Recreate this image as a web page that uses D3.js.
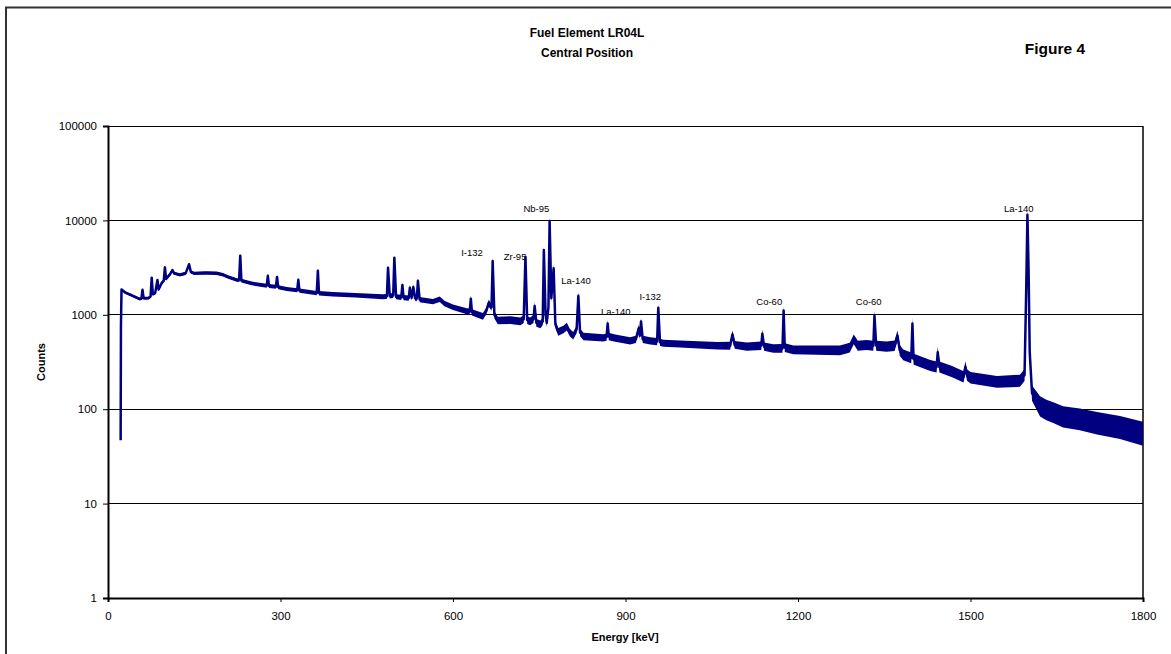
<!DOCTYPE html>
<html>
<head>
<meta charset="utf-8">
<script src="https://cdn.jsdelivr.net/npm/d3@7"></script>
<style>
  body { margin: 0; background: #fff; }
  text { font-family: "Liberation Sans", Arial, sans-serif; fill: #000; }
</style>
</head>
<body>
<svg id="chart" width="1171" height="654"></svg>
<script>
//////////////////////////////////////////////////////////////////////////////
// Data

var energy = [22, 22.5, 23.5, 30, 40, 55, 58, 60, 62, 70, 74, 76, 78, 82, 86, 88, 93, 97, 99, 101,
  108, 112, 115, 125, 135, 141, 144, 150, 170, 189, 200, 209, 224, 228, 230, 232, 250, 276, 278, 280,
  292, 294, 296, 311, 329, 331, 333, 363, 365, 367, 391, 430, 478, 485, 487, 490, 496, 498, 501, 510,
  512, 514, 523, 525, 528, 531, 534, 537, 539, 542, 565, 577, 585, 600, 624, 629, 631, 633, 652, 658,
  662, 667, 669, 672, 678, 700, 717, 723, 726, 729, 734, 740, 742, 745, 752, 756, 758, 761, 763, 766,
  768, 771, 775, 778, 783, 792, 798, 803, 809, 815, 818, 821, 827, 862, 867, 869, 871, 880, 908, 918,
  923, 925, 927, 930, 943, 955, 957, 960, 966, 995, 1060, 1082, 1086, 1090, 1111, 1136, 1138, 1141, 1157, 1173,
  1175, 1177, 1192, 1273, 1290, 1297, 1304, 1319, 1331, 1333, 1336, 1354, 1368, 1373, 1377, 1383, 1397, 1399, 1401, 1406,
  1430, 1441, 1443, 1446, 1468, 1488, 1491, 1494, 1500, 1546, 1586, 1594, 1597, 1599, 1601, 1603, 1607, 1621, 1632, 1644,
  1661, 1690, 1720, 1760, 1800];

var counts = [47, 750, 1850, 1720, 1620, 1470, 1480, 1840, 1500, 1500, 1560, 2470, 1650, 1700, 2340, 1850, 2150, 2300, 3180, 2400,
  2700, 2980, 2750, 2650, 2750, 3430, 2850, 2750, 2780, 2760, 2650, 2520, 2340, 2330, 4230, 2300, 2150, 2030, 2590, 2020,
  1980, 2520, 1960, 1880, 1820, 2350, 1800, 1700, 2930, 1690, 1650, 1610, 1550, 1560, 3160, 1580, 1600, 4030, 1550, 1530,
  2070, 1520, 1500, 1940, 1510, 1970, 1500, 1480, 2290, 1450, 1380, 1460, 1320, 1200, 1090, 1080, 1480, 1060, 960, 1100,
  1330, 1200, 3720, 1000, 870, 880, 850, 900, 4120, 880, 850, 900, 1240, 820, 790, 850, 4860, 1000, 820, 1200,
  9860, 1500, 3110, 800, 660, 700, 750, 650, 600, 700, 1590, 650, 590, 570, 580, 810, 590, 570, 530, 550,
  720, 600, 850, 550, 530, 520, 1190, 510, 500, 490, 470, 470, 620, 480, 460, 470, 630, 460, 440, 440,
  1110, 450, 425, 420, 450, 550, 470, 480, 470, 980, 470, 460, 470, 600, 420, 376, 350, 810, 340, 330,
  290, 280, 400, 280, 250, 220, 280, 230, 215, 195, 200, 230, 2000, 11500, 3000, 400, 148, 107, 98, 92,
  83, 78, 71, 64, 55];

// width of the noise band (ratio of upper edge to the trace)
var noiseEnergy = [0, 300, 600, 700, 1000, 1400, 1600, 1620, 1800];
var noiseRatio  = [1.03, 1.05, 1.07, 1.1, 1.09, 1.14, 1.16, 1.28, 1.34];

var peakNames  = ["Nb-95", "I-132", "Zr-95", "La-140", "La-140", "I-132", "Co-60", "Co-60", "La-140"];
var peakEnergy = [745, 633, 708, 814, 883, 943, 1150, 1323, 1584];
var peakCounts = [13200, 4550, 4120, 2300, 1080, 1556, 1378, 1378, 13430];

var xTicks = [0, 300, 600, 900, 1200, 1500, 1800];
var yTicks = [1, 10, 100, 1000, 10000, 100000];

//////////////////////////////////////////////////////////////////////////////
// Scales

var plotLeft = 108, plotRight = 1143, plotTop = 126, plotBottom = 598;

var xScale = d3.scaleLinear().domain([0, 1800]).range([plotLeft, plotRight]);
var yScale = d3.scaleLog().domain([1, 100000]).range([plotBottom, plotTop]);
var noiseScale = d3.scaleLinear().domain(noiseEnergy).range(noiseRatio);

var svg = d3.select("#chart");

// outer chart frame
svg.append("path")
    .attr("d", "M6,660 L6,7.5 L1180,7.5")
    .attr("fill", "none").attr("stroke", "#333").attr("stroke-width", 2);

//////////////////////////////////////////////////////////////////////////////
// Grid and axes

svg.append("g").selectAll("line")
    .data(yTicks.slice(1))
    .enter().append("line")
    .attr("x1", plotLeft).attr("x2", plotRight)
    .attr("y1", function(d) { return yScale(d); })
    .attr("y2", function(d) { return yScale(d); })
    .attr("stroke", "#000").attr("stroke-width", 1)
    .attr("shape-rendering", "crispEdges");

svg.append("line")
    .attr("x1", plotRight).attr("x2", plotRight).attr("y1", plotTop).attr("y2", plotBottom)
    .attr("stroke", "#000").attr("stroke-width", 1.5);

var yAxis = svg.append("g")
    .attr("transform", "translate(" + plotLeft + ",0)")
    .call(d3.axisLeft(yScale).tickValues(yTicks).tickFormat(d3.format("d")).tickSize(5).tickPadding(6));

var xAxis = svg.append("g")
    .attr("transform", "translate(0," + plotBottom + ")")
    .call(d3.axisBottom(xScale).tickValues(xTicks).tickFormat(d3.format("d")).tickSize(4).tickPadding(10));

[yAxis, xAxis].forEach(function(ax) {
    ax.select(".domain").attr("stroke", "#000").attr("stroke-width", 2);
    ax.selectAll(".tick line").attr("stroke", "#000");
    ax.selectAll("text").style("font-size", "11.5px").attr("fill", "#000");
});

//////////////////////////////////////////////////////////////////////////////
// Spectrum

var spectrum = energy.map(function(e, i) { return { e: e, c: counts[i] }; });

var band = d3.area()
    .x(function(d) { return xScale(d.e); })
    .y0(function(d) { return yScale(d.c / noiseScale(d.e)); })
    .y1(function(d) { return yScale(d.c * noiseScale(d.e)); });

var trace = d3.line()
    .x(function(d) { return xScale(d.e); })
    .y(function(d) { return yScale(d.c); });

svg.append("path").datum(spectrum)
    .attr("d", band)
    .attr("fill", "#000080");

svg.append("path").datum(spectrum)
    .attr("d", trace)
    .attr("fill", "none").attr("stroke", "#000080")
    .attr("stroke-width", 2.5).attr("stroke-linejoin", "round");

//////////////////////////////////////////////////////////////////////////////
// Peak labels and titles

svg.append("g").selectAll("text")
    .data(peakNames)
    .enter().append("text")
    .attr("x", function(d, i) { return xScale(peakEnergy[i]); })
    .attr("y", function(d, i) { return yScale(peakCounts[i]); })
    .attr("dy", "0.35em")
    .attr("text-anchor", "middle")
    .style("font-size", "9.5px")
    .text(function(d) { return d; });

svg.append("text").attr("x", 587).attr("y", 37).attr("text-anchor", "middle")
    .style("font-size", "12px").style("font-weight", "bold").text("Fuel Element LR04L");
svg.append("text").attr("x", 587).attr("y", 57).attr("text-anchor", "middle")
    .style("font-size", "12px").style("font-weight", "bold").text("Central Position");
svg.append("text").attr("x", 1055).attr("y", 54).attr("text-anchor", "middle")
    .style("font-size", "15.5px").style("font-weight", "bold").text("Figure 4");

svg.append("text").attr("x", 625).attr("y", 641).attr("text-anchor", "middle")
    .style("font-size", "11px").style("font-weight", "bold").text("Energy [keV]");
svg.append("text").attr("transform", "translate(45,362) rotate(-90)").attr("text-anchor", "middle")
    .style("font-size", "11px").style("font-weight", "bold").text("Counts");
</script>
</body>
</html>
